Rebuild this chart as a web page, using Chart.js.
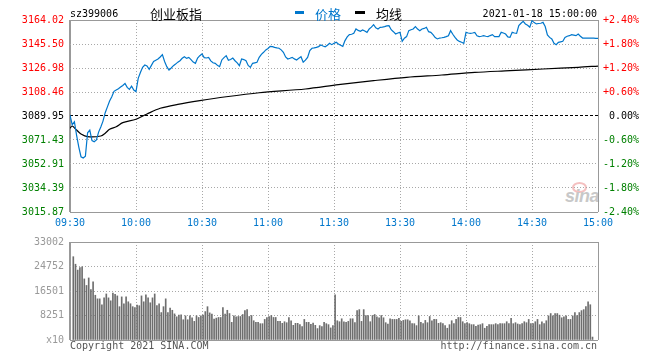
<!DOCTYPE html>
<html><head><meta charset="utf-8">
<script src="https://cdn.jsdelivr.net/npm/chart.js@4.4.1/dist/chart.umd.min.js"></script>
<style>
html,body{margin:0;padding:0;background:#fff;}
#wrap{position:relative;width:660px;height:360px;overflow:hidden;background:#fff;}
canvas{position:absolute;left:0;z-index:1;}
#pc{top:0;}
#vc{top:230px;}
.t{position:absolute;white-space:nowrap;z-index:2;}
.mono{font-family:'DejaVu Sans Mono',monospace;font-size:10px;line-height:12px;}
.cjk{font-family:'Noto Sans CJK SC',sans-serif;font-size:13px;line-height:13px;}
.sw{position:absolute;z-index:2;}
#wm{position:absolute;left:565px;top:187px;z-index:0;font-family:'Liberation Sans',sans-serif;font-weight:bold;font-style:italic;font-size:18px;line-height:18px;color:#c8c8c8;letter-spacing:-0.5px;}
#eye{position:absolute;left:572px;top:182px;width:11px;height:7px;border:2px solid rgba(235,140,140,0.55);border-radius:50%;z-index:0;}
</style></head><body>
<div id="wrap">
<div id="eye"></div>
<div id="wm">sina</div>
<canvas id="pc" width="660" height="230"></canvas>
<canvas id="vc" width="660" height="130"></canvas>
<div class="t mono" style="left:70px;top:7.5px;color:#000">sz399006</div>
<div class="t cjk" style="left:150px;top:6.5px;color:#000">创业板指</div>
<div class="sw" style="left:295px;top:11px;width:9px;height:3px;background:#0077cc"></div>
<div class="t cjk" style="left:315px;top:6.5px;color:#0077cc">价格</div>
<div class="sw" style="left:355px;top:11px;width:10px;height:3px;background:#000"></div>
<div class="t cjk" style="left:376px;top:6.5px;color:#000">均线</div>
<div class="t mono" style="right:63px;top:7.5px;color:#000">2021-01-18 15:00:00</div>
<div class="t mono" style="left:70px;top:340px;color:#555">Copyright 2021 SINA.COM</div>
<div class="t mono" style="right:63px;top:340px;color:#555">http://finance.sina.com.cn</div>
</div>
<script>
const preClose = 3089.95;
// price per minute, index 0 = 09:30 ... 120 = 11:30/13:00 ... 240 = 15:00
const priceVal = [
3090.7,3083.2,3085.5,3075.0,3066.0,3058.5,3057.5,3059.0,3077.0,3079.1,
3071.0,3070.1,3071.5,3077.5,3081.5,3086.0,3092.5,3097.0,3101.5,3104.8,
3109.0,3110.0,3111.0,3112.3,3113.5,3115.0,3112.0,3110.5,3113.0,3110.0,
3108.7,3119.0,3123.5,3127.5,3129.3,3128.5,3126.0,3129.0,3132.0,3133.0,
3133.9,3135.5,3137.3,3132.0,3128.0,3125.4,3127.0,3128.8,3130.0,3131.5,
3132.6,3134.5,3135.7,3134.4,3135.2,3133.5,3131.5,3130.6,3134.7,3136.5,
3137.8,3135.0,3134.7,3135.2,3132.5,3131.0,3130.6,3129.0,3128.0,3133.2,
3135.0,3136.5,3133.0,3133.5,3134.7,3132.6,3131.0,3128.8,3133.9,3133.5,
3132.6,3129.0,3127.5,3130.6,3131.0,3131.4,3135.2,3137.5,3139.1,3140.9,
3142.0,3143.7,3143.5,3142.9,3142.5,3142.2,3141.0,3139.1,3135.5,3133.9,
3134.5,3135.2,3134.0,3133.2,3134.5,3135.7,3131.4,3133.0,3135.2,3140.4,
3142.2,3142.5,3142.9,3143.5,3144.7,3144.0,3143.4,3144.5,3146.0,3145.0,
3146.0,3146.8,3145.5,3144.5,3143.7,3148.1,3151.0,3152.7,3153.0,3153.7,
3157.1,3156.0,3155.3,3156.3,3155.5,3154.5,3157.1,3158.5,3160.4,3158.0,
3157.1,3158.4,3158.5,3158.9,3159.5,3159.7,3156.5,3155.0,3153.2,3154.0,
3154.5,3147.6,3150.0,3151.2,3155.8,3156.5,3157.1,3158.9,3157.0,3155.8,
3157.1,3157.5,3158.4,3155.0,3154.5,3152.7,3150.5,3149.4,3150.1,3150.3,
3150.6,3151.2,3151.9,3155.8,3153.0,3150.6,3148.6,3147.5,3146.8,3146.0,
3154.5,3154.0,3153.7,3154.0,3154.5,3151.9,3151.2,3151.5,3151.9,3151.5,
3151.2,3152.0,3152.7,3151.2,3151.2,3151.2,3154.5,3154.0,3153.2,3151.0,
3150.6,3154.5,3154.0,3153.7,3159.7,3161.5,3163.0,3161.0,3160.0,3158.4,
3163.5,3162.0,3161.0,3161.3,3161.5,3162.2,3159.0,3152.5,3150.6,3149.4,
3146.0,3145.0,3146.8,3147.2,3147.6,3150.6,3151.5,3151.9,3152.7,3152.3,
3151.9,3153.2,3151.5,3150.1,3150.1,3150.0,3150.1,3150.1,3150.0,3149.9,
3149.8];
// average line readings (minute, value)
const avgMin = [0,1,3,5,8,14,16,18,21,24,30,35,41,49,59,71,86,107,122,138,153,169,184,200,215,231,240];
const avgVal = [3080.5,3082.2,3079.1,3076.1,3074.0,3074.5,3076.6,3079.7,3081.7,3084.8,3087.4,3091.5,3095.9,3098.9,3101.8,3104.8,3107.9,3110.8,3114.1,3117.2,3119.8,3121.6,3123.6,3124.9,3126.2,3127.5,3128.5];
// volume per minute bar (first bar at minute volStartMin)
const volStartMin = 1.5;
const volVal = [
28050,25520,23540,24420,24640,20570,18370,20900,16940,19580,
15070,13860,13860,11880,14190,15510,14190,13200,15840,15400,
14850,11220,14520,12210,14520,12870,12210,11220,10890,11770,
11550,14850,12870,15180,14190,12540,14190,15510,11550,12210,
9240,11220,13860,9240,10780,10010,8800,7810,8360,8470,
6820,8140,6820,8140,7480,6270,8140,7590,8140,8360,
9570,11220,9130,8690,7040,7370,7590,7590,10890,8690,
10010,8910,5940,8140,7810,7920,7920,8580,9900,10230,
7920,8250,6490,5940,5940,5500,5500,6930,7590,7920,
8250,7590,7590,6270,6270,5610,6160,5830,7590,6490,
4950,5610,5610,5170,4510,6930,5940,5940,5280,5720,
4950,3850,4840,4510,5940,5500,5170,4070,4840,
15180,
6490,6160,7150,6160,5940,6270,7150,7150,5830,9900,
10230,6270,10230,8250,8250,6160,8250,8580,7810,7480,
8250,7480,5830,5390,7150,6930,6930,6930,7260,6270,
6600,
6820,6820,6490,5500,5500,4840,8140,5940,5500,6600,
5830,7920,6490,6930,6930,5610,5830,5500,4840,3960,
5170,6490,5500,6930,7590,7590,6160,5500,5830,5500,
5170,5170,4620,5060,
5170,5500,3960,4620,5170,5170,5170,
5500,5170,5500,5500,5500,6160,5500,7260,5500,5830,
5390,
5170,5500,6160,5830,6930,5500,5500,6160,6930,5170,
6160,5500,6490,8140,8910,8140,8910,8910,8360,
7480,7810,8140,6930,6930,8140,9240,8250,9240,9900,
10230,11220,12870,11880,990];

const priceTicks = [3015.87,3034.39,3052.91,3071.43,3089.95,3108.46,3126.98,3145.50,3164.02];
const pctTicks = [-2.4,-1.8,-1.2,-0.6,0,0.6,1.2,1.8,2.4];
const pctLabels = ['-2.40%','-1.80%','-1.20%','-0.60%','0.00%','+0.60%','+1.20%','+1.80%','+2.40%'];
const timeTicks = [0,30,60,90,120,150,180,210,240];
const timeLabels = ['09:30','10:00','10:30','11:00','11:30','13:30','14:00','14:30','15:00'];
const volTicks = [0,8251,16501,24752,33002];
const volLabels = ['x10','8251','16501','24752','33002'];

const BLUE='#0077cc', RED='#ff0000', GREEN='#008000', FRAME='#999999', DOT='#a8a8a8';
const FONT={family:"'DejaVu Sans Mono', monospace", size:10};
function signColor(v, zero){ return v>zero+1e-6?RED:(v<zero-1e-6?GREEN:'#000000'); }
function isEdge(v, lo, hi){ return Math.abs(v-lo)<1e-6 || Math.abs(v-hi)<1e-6; }

const timeScaleBase = (h, showTicks) => ({
  type:'linear', min:0, max:240, offset:false,
  afterBuildTicks: s => { s.ticks = timeTicks.map(v=>({value:v})); },
  afterFit: s => { s.height = h; },
  ticks:{display:showTicks, font:FONT, color:BLUE, padding:5, autoSkip:false, maxRotation:0, minRotation:0,
         callback:(v,i)=>timeLabels[i]},
  grid:{drawTicks:false, offset:false,
        color: c => isEdge(c.tick.value,0,240)?FRAME:DOT,
        lineWidth: c => c.tick.value===0?2:1},
  border:{display:false, dash: c => isEdge(c.tick.value,0,240)?[]:[1,2]}
});

new Chart(document.getElementById('pc'), {
  type:'line',
  data:{datasets:[
    {label:'价格', data: priceVal.map((v,i)=>({x:i,y:v})), borderColor:BLUE, borderWidth:1.2, pointRadius:0, tension:0, yAxisID:'y'},
    {label:'均线', data: avgMin.map((m,i)=>({x:m,y:avgVal[i]})), borderColor:'#000', borderWidth:1.2, pointRadius:0, tension:0.3, yAxisID:'y'}
  ]},
  options:{
    responsive:false, animation:false, devicePixelRatio:1,
    layout:{padding:{left:0,right:21,top:20,bottom:0}},
    plugins:{legend:{display:false}, tooltip:{enabled:false}},
    scales:{
      x: timeScaleBase(18, true),
      y:{type:'linear', position:'left', min:priceTicks[0], max:priceTicks[priceTicks.length-1],
        afterBuildTicks: s => { s.ticks = priceTicks.map(v=>({value:v})); },
        afterFit: s => { s.width = 70; },
        ticks:{font:FONT, padding:6, color: c => signColor(c.tick.value, preClose), callback: v => v.toFixed(2)},
        grid:{drawTicks:false,
          color: c => isEdge(c.tick.value,priceTicks[0],priceTicks[8])?FRAME:(Math.abs(c.tick.value-preClose)<1e-6?'#000000':DOT),
          lineWidth:1},
        border:{display:false, dash: c => isEdge(c.tick.value,priceTicks[0],priceTicks[8])?[]:(Math.abs(c.tick.value-preClose)<1e-6?[3,2]:[1,2])}
      },
      yR:{type:'linear', position:'right', min:-2.4, max:2.4,
        afterBuildTicks: s => { s.ticks = pctTicks.map(v=>({value:v})); },
        afterFit: s => { s.width = 41; },
        ticks:{font:FONT, padding:5, crossAlign:'far', color: c => signColor(c.tick.value,0), callback:(v,i)=>pctLabels[i]},
        grid:{display:false, drawTicks:false}, border:{display:false}
      }
    }
  }
});

new Chart(document.getElementById('vc'), {
  type:'bar',
  data:{datasets:[{label:'成交量', data: volVal.map((v,i)=>({x:i+volStartMin,y:v})), backgroundColor:'#6e6e6e', borderWidth:0, barThickness:1}]},
  options:{
    responsive:false, animation:false, devicePixelRatio:1,
    layout:{padding:{left:0,right:62,top:10,bottom:0}},
    plugins:{legend:{display:false}, tooltip:{enabled:false}},
    scales:{
      x: timeScaleBase(20, false),
      y:{type:'linear', position:'left', min:0, max:33002,
        afterBuildTicks: s => { s.ticks = volTicks.map(v=>({value:v})); },
        afterFit: s => { s.width = 70; },
        ticks:{font:FONT, padding:6, color:'#999999', callback:(v,i)=>volLabels[i]},
        grid:{drawTicks:false, color: c => isEdge(c.tick.value,0,33002)?FRAME:DOT, lineWidth:1},
        border:{display:false, dash: c => isEdge(c.tick.value,0,33002)?[]:[1,2]}
      }
    }
  }
});
</script>
</body></html>
